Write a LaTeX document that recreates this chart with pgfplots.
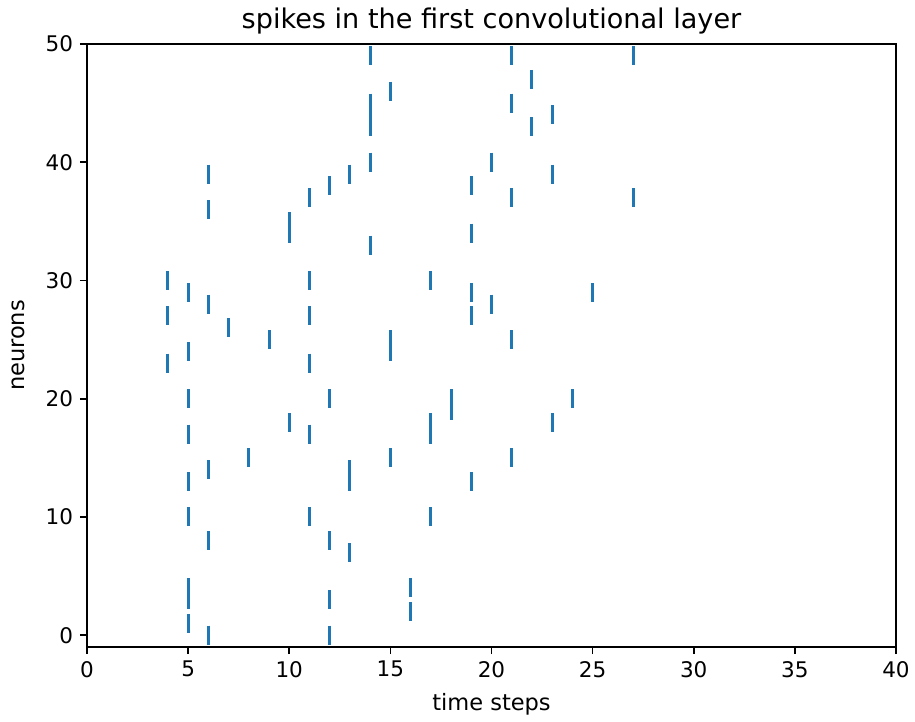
\documentclass[border=0pt]{standalone}
\usepackage{pgfplots}
\pgfplotsset{compat=1.18}
\usepackage{fontspec}
\setmainfont{DejaVu Sans}
\definecolor{tabblue}{HTML}{1F77B4}
\begin{document}
\begin{tikzpicture}
\begin{axis}[
  scale only axis, width=404.5bp, height=301.5bp,
  xmin=0, xmax=40, ymin=-1, ymax=50,
  xtick={0,5,...,40}, ytick={0,10,...,50},
  tick align=outside, tick pos=left, major tick length=3.5bp,
  tick label style={font=\fontsize{10.8}{12}\selectfont},
  /pgf/number format/assume math mode=true,
  title={spikes in the first convolutional layer},
  every axis title shift=0pt,
  title style={font=\fontsize{13.6}{15}\selectfont, at={(axis description cs:0.5,1.0249)}, anchor=base},
  xlabel={time steps}, ylabel={neurons},
  label style={font=\fontsize{11.3}{13}\selectfont},
  xlabel style={at={(axis description cs:0.5,-0.1061)}, anchor=base},
  ylabel style={at={(axis description cs:-0.077,0.5)}, anchor=base},
  axis line style={line width=0.8bp},
  every tick/.style={black, line width=0.8bp},
]
\addplot[only marks, mark=|, mark size=4.75bp, color=tabblue, mark options={line width=1.5bp}] table {
x y
4 30
4 27
4 23
5 29
5 24
5 20
5 17
5 13
5 10
5 4
5 3
5 1
6 39
6 36
6 28
6 14
6 8
6 0
7 26
8 15
9 25
10 35
10 34
10 18
11 37
11 30
11 27
11 23
11 17
11 10
12 38
12 20
12 8
12 3
12 0
13 39
13 14
13 13
13 7
14 49
14 45
14 44
14 43
14 40
14 33
15 46
15 25
15 24
15 15
16 4
16 2
17 30
17 18
17 17
17 10
18 20
18 19
19 38
19 34
19 29
19 27
19 13
20 40
20 28
21 49
21 45
21 37
21 25
21 15
22 47
22 43
23 44
23 39
23 18
24 20
25 29
27 49
27 37
};
\coordinate (bl) at (rel axis cs:0,0);
\coordinate (tr) at (rel axis cs:1,1);
\end{axis}
\pgfresetboundingbox
\path[use as bounding box] ([shift={(-43.5bp,-37.5bp)}]bl) rectangle ([shift={(9.5bp,22bp)}]tr);
\end{tikzpicture}
\end{document}
